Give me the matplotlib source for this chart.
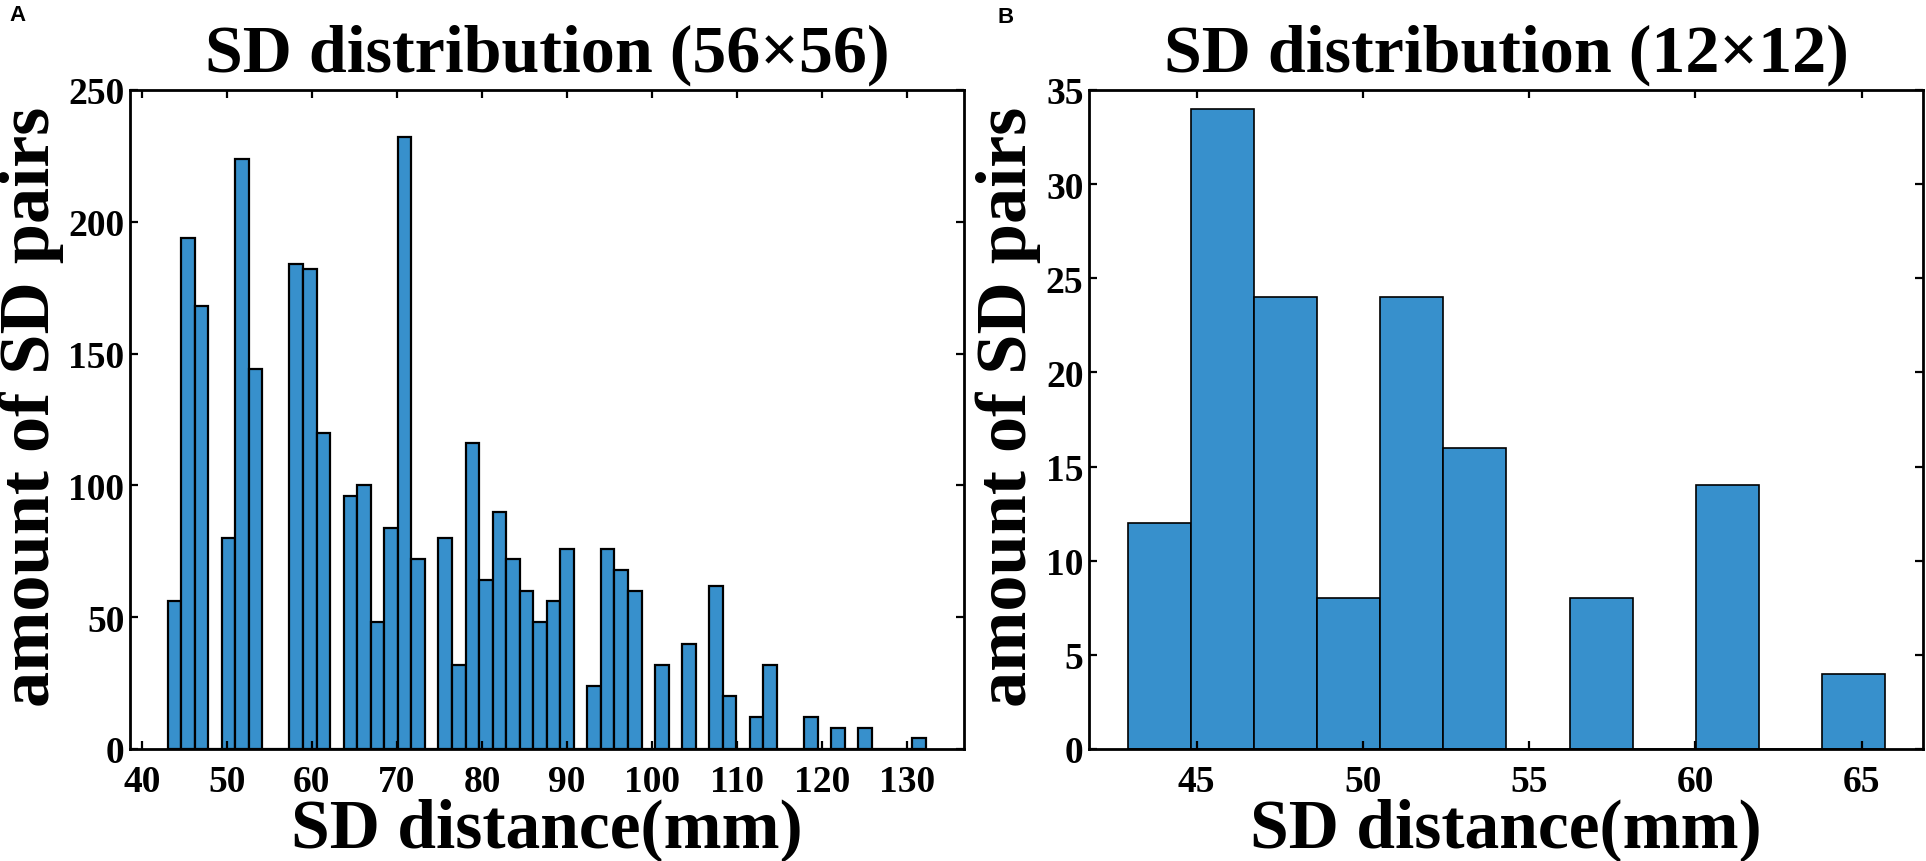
import numpy as np
import matplotlib
matplotlib.use("Agg")
import matplotlib.pyplot as plt

# ---------------- data ----------------
# Panel A: 56 bins starting at 43.02 mm, width ~1.593 mm
a_bin_start = 43.02
a_bin_width = 1.593
a_counts = [56, 194, 168, 0, 80, 224, 144, 0, 0, 184,
            182, 120, 0, 96, 100, 48, 84, 232, 72, 0,
            80, 32, 116, 64, 90, 72, 60, 48, 56, 76,
            0, 24, 76, 68, 60, 0, 32, 0, 40, 0,
            62, 20, 0, 12, 32, 0, 0, 12, 0, 8,
            0, 8, 0, 0, 0, 4]
a_xticks = [40, 50, 60, 70, 80, 90, 100, 110, 120, 130]
a_yticks = [0, 50, 100, 150, 200, 250]

# Panel B: 12 bins starting at 42.93 mm, width ~1.898 mm
b_bin_start = 42.93
b_bin_width = 1.898
b_counts = [12, 34, 24, 8, 24, 16, 0, 8, 0, 14, 0, 4]
b_xticks = [45, 50, 55, 60, 65]
b_yticks = [0, 5, 10, 15, 20, 25, 30, 35]

titles = ["SD distribution (56\u00d756)", "SD distribution (12\u00d712)"]
xlabel = "SD distance(mm)"
ylabel = "amount of SD pairs"
panel_letters = ["A", "B"]

# ---------------- style ----------------
W, H = 1926, 862
DPI = 100
bar_color = "#3790CC"
serif = ["Liberation Serif", "DejaVu Serif"]
sans = ["Liberation Sans", "DejaVu Sans"]

fig = plt.figure(figsize=(W / DPI, H / DPI), dpi=DPI)

def px_axes(x0, x1, ytop, ybot):
    return fig.add_axes([x0 / W, (H - ybot) / H, (x1 - x0) / W, (ybot - ytop) / H])

axA = px_axes(130, 964, 91, 750)
axB = px_axes(1089, 1923, 91, 750)

def style(ax, counts, start, width, xlim, ylim, xticks, yticks, title, lw_edge, ylab_x):
    n = len(counts)
    lefts = start + width * np.arange(n)
    ax.bar(lefts, counts, width=width, align="edge", color=bar_color,
           edgecolor="black", linewidth=lw_edge)
    ax.set_xlim(*xlim)
    ax.set_ylim(*ylim)
    ax.set_xticks(xticks)
    ax.set_yticks(yticks)
    for s in ax.spines.values():
        s.set_linewidth(2.0)
    ax.tick_params(direction="in", length=6, width=1.6, top=True, right=True,
                   labelsize=27)
    ax.tick_params(axis="x", pad=11)
    ax.tick_params(axis="y", pad=4)
    for lab in ax.get_xticklabels() + ax.get_yticklabels():
        lab.set_fontfamily(serif)
        lab.set_fontweight("bold")
    ax.set_title(title, fontsize=49, fontweight="bold", family=serif, pad=14)
    ax.set_xlabel(xlabel, fontsize=50, fontweight="bold", family=serif)
    ax.set_ylabel(ylabel, fontsize=52, fontweight="bold", family=serif)
    ax.xaxis.set_label_coords(0.5, -0.073)
    ax.yaxis.set_label_coords(ylab_x, 0.52)

style(axA, a_counts, a_bin_start, a_bin_width, (38.6, 136.7), (0, 250),
      a_xticks, a_yticks, titles[0], 1.6, -0.079)
style(axB, b_counts, b_bin_start, b_bin_width, (41.76, 66.85), (0, 35),
      b_xticks, b_yticks, titles[1], 1.2, -0.057)

fig.text(9 / W, 1 - 5 / H, panel_letters[0], fontsize=16, fontweight="bold",
         family=sans, ha="left", va="top")
fig.text(997 / W, 1 - 7 / H, panel_letters[1], fontsize=16, fontweight="bold",
         family=sans, ha="left", va="top")

fig.savefig("out.png", dpi=DPI)
